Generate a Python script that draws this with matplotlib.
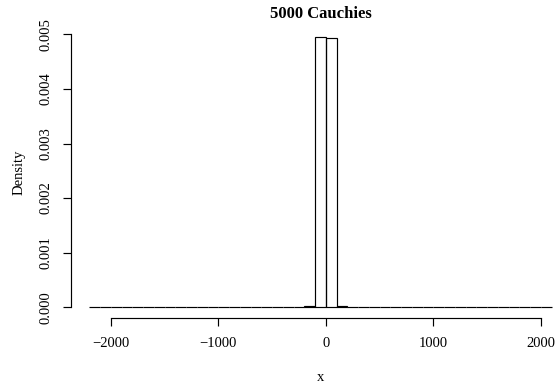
import numpy as np
import matplotlib
matplotlib.use("Agg")
import matplotlib.pyplot as plt

plt.rcParams["font.family"] = ["Liberation Serif", "DejaVu Serif"]

# Histogram of 5000 Cauchy draws, bins of width 100
bin_left = list(range(-2200, 2100, 100))
counts = [1, 0, 0, 0, 1, 0, 0, 0, 1, 0, 1, 0, 0, 1, 0, 1, 1, 1, 2, 3,
          12, 2478, 2469, 13, 4, 3, 2, 1, 0, 1, 0, 1, 0, 0, 0, 1, 0, 0, 0,
          1, 0, 0, 1]
n_total = 5000
bin_width = 100
x_ticks = [-2000, -1000, 0, 1000, 2000]
y_ticks = [0.000, 0.001, 0.002, 0.003, 0.004, 0.005]
y_tick_labels = ["0.000", "0.001", "0.002", "0.003", "0.004", "0.005"]

density = np.array(counts) / (n_total * bin_width)

W, H = 557, 383
fig = plt.figure(figsize=(W / 100, H / 100), dpi=100)
ax = fig.add_axes([71 / W, (H - 318) / H, (570 - 71) / W, (318 - 26) / H])

lw = 0.85
ax.bar(bin_left, density, width=bin_width, align="edge", fill=False,
       edgecolor="black", linewidth=lw)

lo, hi = bin_left[0], bin_left[-1] + bin_width
span = hi - lo
ax.set_xlim(lo - 0.04 * span, hi + 0.04 * span)
ymax = density.max()
ax.set_ylim(-0.04 * ymax, 1.04 * ymax)

for s in ("top", "right"):
    ax.spines[s].set_visible(False)
ax.spines["bottom"].set_bounds(x_ticks[0], x_ticks[-1])
ax.spines["left"].set_bounds(y_ticks[0], y_ticks[-1])
ax.spines["bottom"].set_linewidth(lw)
ax.spines["left"].set_linewidth(lw)

ax.set_xticks(x_ticks)
ax.set_yticks(y_ticks)
ax.set_yticklabels(y_tick_labels, rotation=90, va="center")
ax.tick_params(direction="out", length=6, width=lw, labelsize=10.5)
ax.tick_params(axis="x", pad=8)
ax.tick_params(axis="y", pad=7)

ax.set_xlabel("x", fontsize=10.5, labelpad=14.5)
ax.set_ylabel("Density", fontsize=10.5, labelpad=10)
ax.set_title("5000 Cauchies", fontsize=12, fontweight="bold", pad=6)

fig.savefig("out.png", dpi=100)
